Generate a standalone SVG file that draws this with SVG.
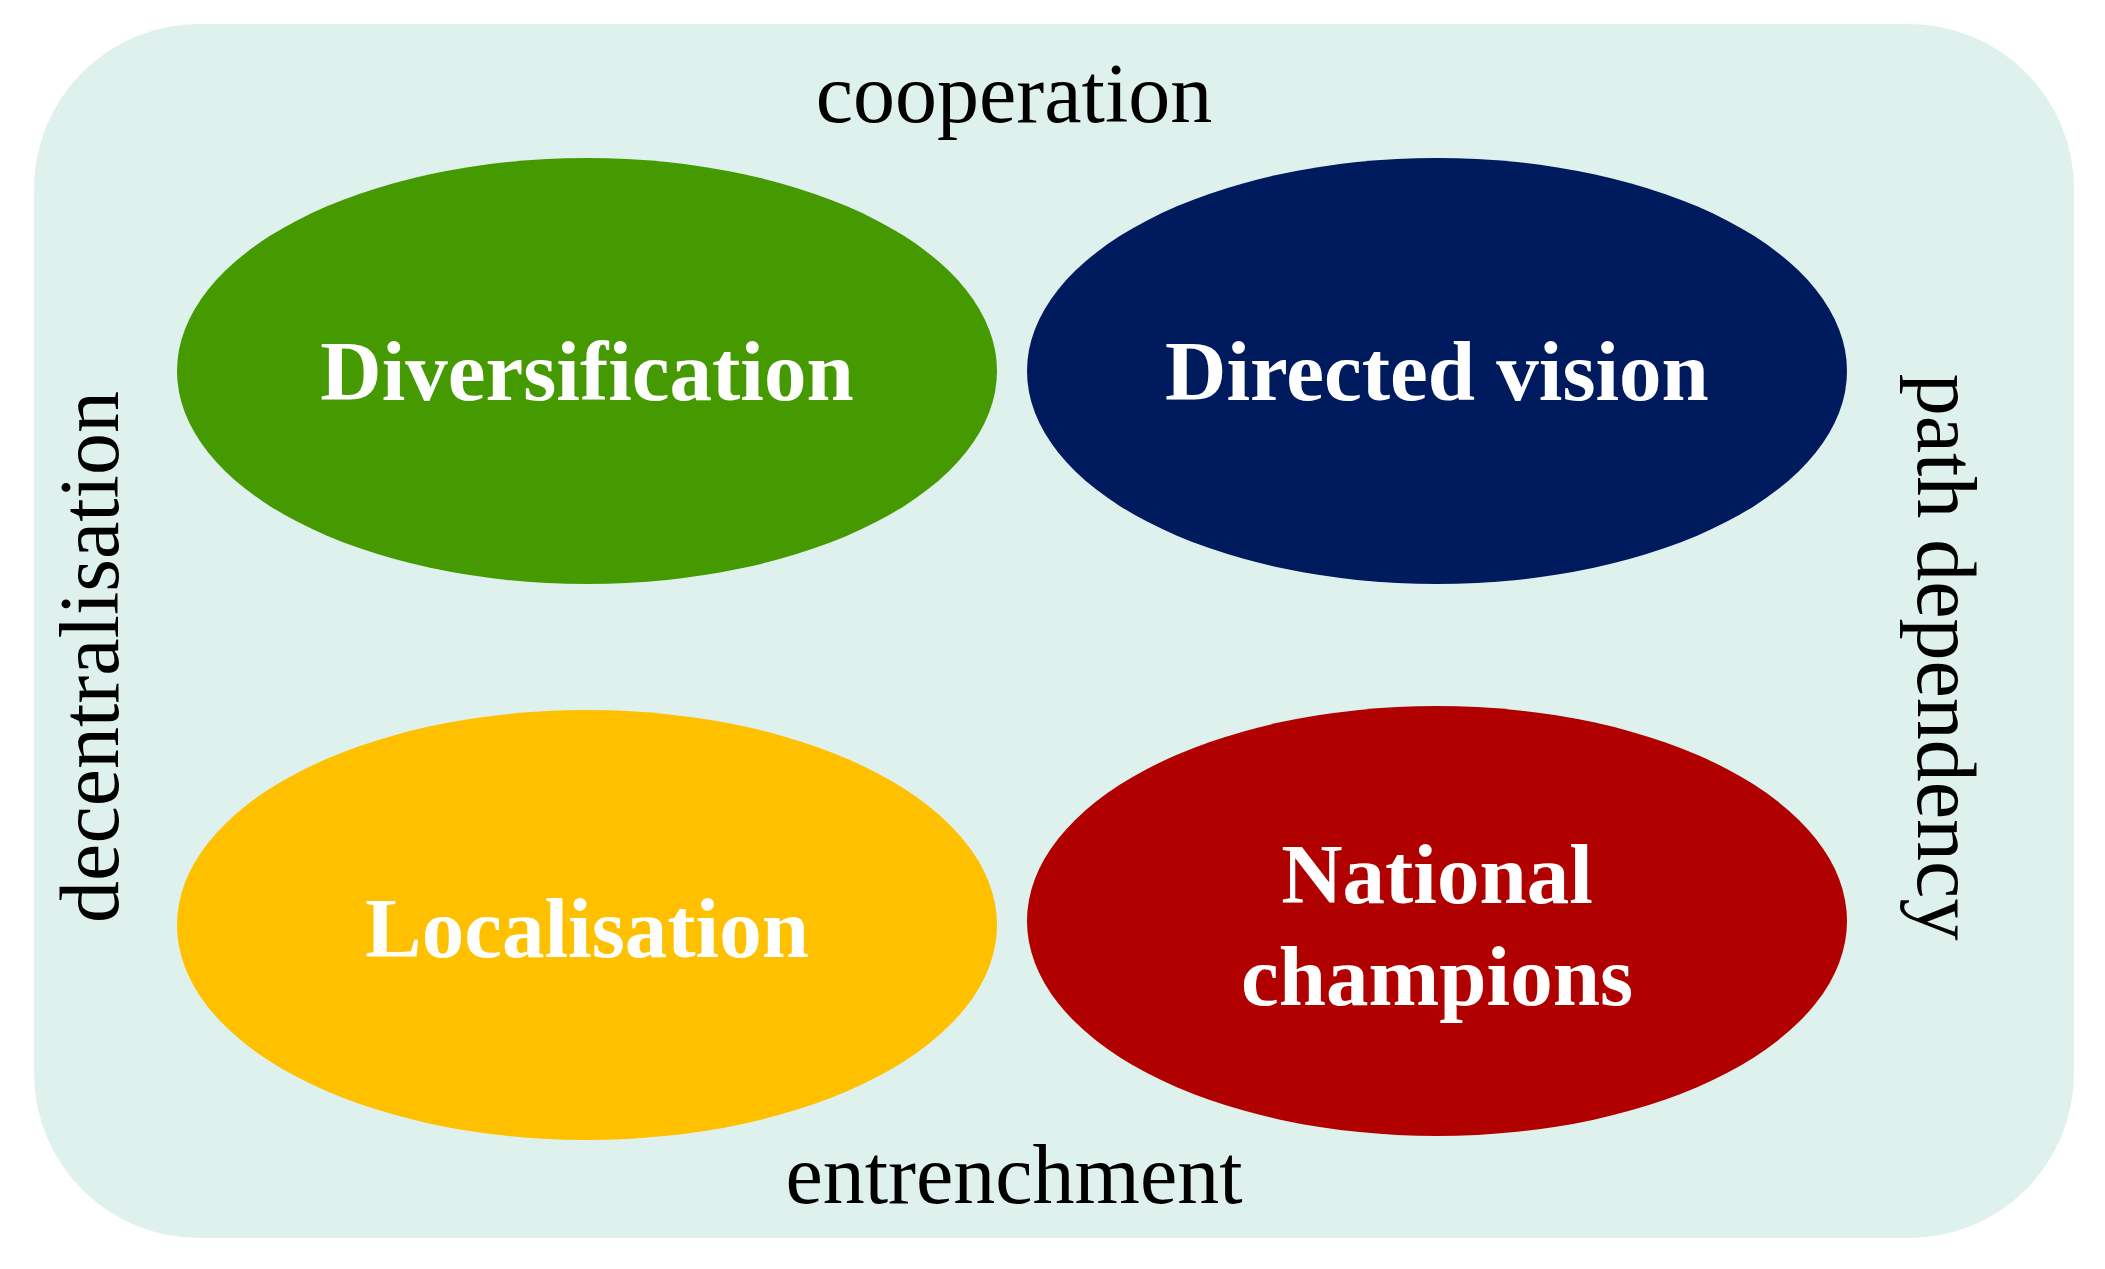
<svg xmlns="http://www.w3.org/2000/svg" width="2105" height="1269" viewBox="0 0 2105 1269">
<style>
.lbl{font-family:"Liberation Serif",serif;font-size:84px;fill:#000;text-anchor:middle}
.nt{font-family:"Liberation Serif",serif;font-size:85px;font-weight:bold;fill:#fff;text-anchor:middle}
</style>
<rect x="0" y="0" width="2105" height="1269" fill="#fff"/>
<g id="background"><rect x="34" y="24" width="2040" height="1214" rx="165" fill="#dff1ec"/></g>
<g id="diversification"><ellipse cx="587" cy="371" rx="410" ry="213" fill="#449a00"/><text class="nt" x="587" y="400">Diversification</text></g>
<g id="directed"><ellipse cx="1437" cy="371" rx="410" ry="213" fill="#001a5e"/><text class="nt" x="1437" y="400">Directed vision</text></g>
<g id="localisation"><ellipse cx="587" cy="925" rx="410" ry="215" fill="#ffc000"/><text class="nt" x="587" y="957">Localisation</text></g>
<g id="national"><ellipse cx="1437" cy="921" rx="410" ry="215" fill="#b00000"/><text class="nt" x="1437" y="903">National</text><text class="nt" x="1437" y="1005">champions</text></g>
<g id="labels">
<text class="lbl" x="1014" y="122">cooperation</text>
<text class="lbl" x="1014" y="1203">entrenchment</text>
<text class="lbl" transform="translate(118,657) rotate(-90)">decentralisation</text>
<text class="lbl" transform="translate(1918,657) rotate(90)">path dependency</text>
</g>
<g id="connectors"/>
</svg>
